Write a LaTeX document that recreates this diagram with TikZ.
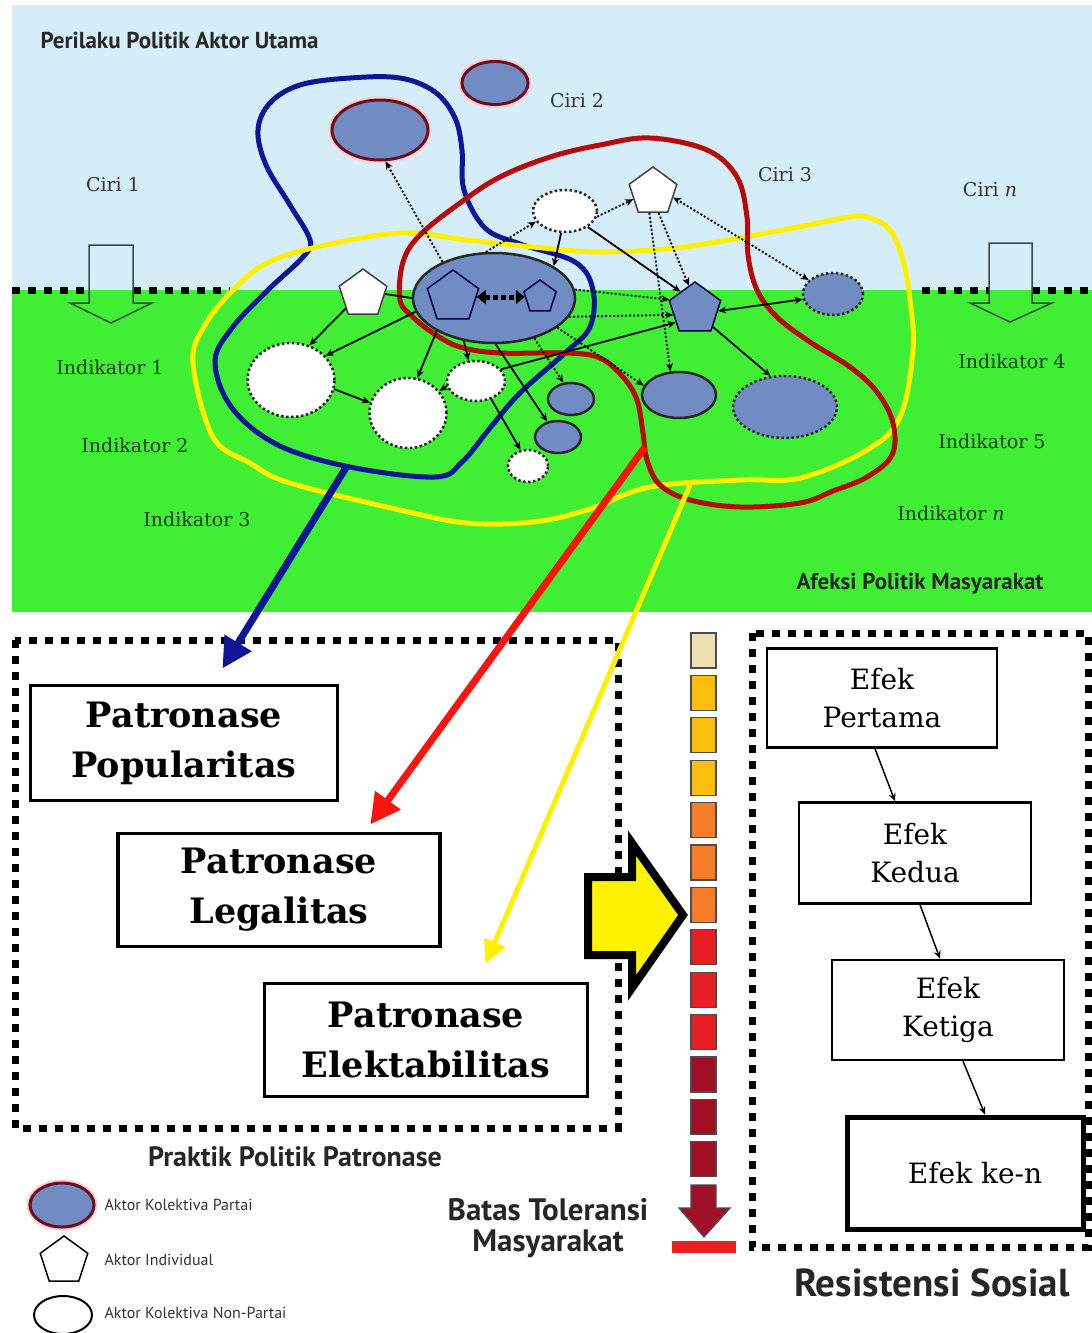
\documentclass[tikz,border=0pt]{standalone}
\usepackage{fontspec}
\setmainfont{DejaVu Serif}
\setsansfont{PT Sans}
\usetikzlibrary{shapes.geometric,arrows.meta}

\definecolor{langit}{RGB}{213,237,249}
\definecolor{hijau}{RGB}{64,238,52}
\definecolor{aktorbiru}{RGB}{112,140,195}
\definecolor{marun}{RGB}{105,15,35}
\definecolor{garisbiru}{RGB}{12,22,150}
\definecolor{garismerah}{RGB}{185,10,10}
\definecolor{merahterang}{RGB}{250,20,15}
\definecolor{kuning}{RGB}{255,240,0}
\definecolor{teksijo}{RGB}{20,60,25}
\definecolor{abuarah}{RGB}{60,70,80}
\definecolor{krem}{RGB}{236,224,178}
\definecolor{emas}{RGB}{252,190,10}
\definecolor{jingga}{RGB}{247,125,40}
\definecolor{merahbar}{RGB}{232,30,35}
\definecolor{marunbar}{RGB}{160,15,38}

\tikzset{
  ujung/.tip={Stealth[length=8pt,width=7pt]},
  panah/.style={-ujung, line width=1.8pt},
  panahtitik/.style={panah, dash pattern=on 2pt off 2pt},
  titik/.style={dash pattern=on 2.5pt off 2.5pt},
  partai/.style={ellipse, inner sep=0pt, fill=aktorbiru, draw=marun, line width=3pt,
    preaction={draw=red!20, line width=7pt}},
  kolektif/.style={ellipse, inner sep=0pt, fill=aktorbiru, draw=black!85, line width=2.5pt},
  kolektiftitik/.style={kolektif, titik},
  nonpartai/.style={ellipse, inner sep=0pt, fill=white, draw=black!85, line width=2.5pt, titik},
  individu/.style={regular polygon, regular polygon sides=5, inner sep=0pt, fill=white,
    draw=black!75, line width=1.5pt},
  individubiru/.style={individu, fill=aktorbiru, draw=black!70!blue},
  kontur/.style={line width=5pt, line join=round},
  panahbesar/.style={line width=7pt, -{Triangle[length=30pt,width=30pt]}},
  garistebal/.style={line width=7pt, dash pattern=on 8pt off 8pt},
  blokpanah/.style={draw=abuarah, line width=1.5pt, line join=miter},
  ciri/.style={font=\fontsize{19}{22}\selectfont, text=black!80},
  indikator/.style={font=\fontsize{19}{22}\selectfont, text=teksijo},
  judul/.style={font=\sffamily\bfseries\fontsize{23}{26}\selectfont, text=black!85},
  legenda/.style={font=\sffamily\fontsize{16}{18}\selectfont, text=black!80, anchor=west},
  patron/.style={draw, line width=3.5pt, align=center, inner sep=0pt,
    font=\bfseries\fontsize{35}{50}\selectfont},
  efek/.style={draw, line width=2.5pt, align=center, inner sep=0pt,
    font=\fontsize{28}{38}\selectfont},
}

\begin{document}
\begin{tikzpicture}[x=1pt,y=-1pt]
\useasboundingbox (0,0) rectangle (1092,1333);
\fill[white] (0,0) rectangle (1092,1333);
\fill[langit] (12,5) rectangle (1092,290);
\fill[hijau] (12,290) rectangle (1092,612);

\draw[garistebal] (12,290) -- (89,290) (133,290) -- (230,290);
\draw[garistebal] (922,290) -- (989,290) (1032,290) -- (1092,290);
\draw[blokpanah] (89,245) -- (133,245) -- (133,303) -- (152,303) -- (111,323) -- (70,303) -- (89,303) -- cycle;
\draw[blokpanah] (989,243) -- (1032,243) -- (1032,303) -- (1052,303) -- (1010,322) -- (970,303) -- (989,303) -- cycle;

\draw[kontur, garisbiru] plot[smooth cycle, tension=0.6] coordinates {(310,240) (290,205) (266,165) (258,130) (270,103) (300,85) (350,78) (400,78) (435,92) (455,118) (462,150) (464,190) (485,228) (520,244) (575,262) (593,290) (590,327) (565,353) (520,393) (490,428) (462,462) (435,477) (350,467) (278,445) (232,408) (215,362) (232,328) (268,290) (303,257)};
\draw[kontur, kuning] plot[smooth cycle, tension=0.6] coordinates {(193,363) (213,437) (250,463) (290,483) (400,510) (467,523) (533,522) (587,510) (650,487) (740,480) (800,478) (867,450) (900,417) (913,350) (910,300) (903,260) (890,230) (870,218) (850,217) (783,230) (683,247) (600,252) (533,247) (467,240) (400,233) (317,247) (267,263) (233,290) (205,325)};
\draw[kontur, garismerah] plot[smooth cycle, tension=0.6] coordinates {(400,300) (403,262) (420,235) (460,203) (500,177) (550,157) (600,145) (650,138) (707,150) (737,177) (747,217) (748,255) (757,290) (777,317) (810,342) (850,367) (877,392) (893,423) (892,455) (867,477) (833,491) (800,503) (740,507) (690,500) (660,485) (647,460) (643,433) (637,400) (623,377) (600,358) (567,353) (500,353) (460,347) (433,333) (413,317)};

\node[judul, anchor=west] (perilaku) at (37,40) {Perilaku Politik Aktor Utama};
\node[ciri] (ciri1) at (113,185) {Ciri 1};
\node[ciri] (ciri2) at (577,101) {Ciri 2};
\node[ciri] (ciri3) at (785,175) {Ciri 3};
\node[ciri] (cirin) at (990,190) {Ciri \textit{n}};
\node[indikator] (ind1) at (110,367) {Indikator 1};
\node[indikator] (ind2) at (135,445) {Indikator 2};
\node[indikator] (ind3) at (197,519) {Indikator 3};
\node[indikator] (ind4) at (1012,361) {Indikator 4};
\node[indikator] (ind5) at (992,441) {Indikator 5};
\node[indikator] (indn) at (951,513) {Indikator \textit{n}};
\node[judul] (afeksi) at (920,584) {Afeksi Politik Masyarakat};

\node[partai, minimum width=96pt, minimum height=60pt] (kolAtas) at (380,130) {};
\node[partai, minimum width=66pt, minimum height=43pt] (kolCiri) at (495,83) {};
\node[kolektif, minimum width=162pt, minimum height=90pt] (kolPusat) at (494,298) {};
\node[individubiru, minimum size=54pt] (pentaBesar) at (453,297) {};
\node[individubiru, minimum size=34pt] (pentaKecil) at (540,297) {};
\node[individu, minimum size=50pt] (indKiri) at (363,294) {};
\node[individu, minimum size=50pt] (indAtas) at (653,192) {};
\node[individubiru, minimum size=54pt] (indBiru) at (695,309) {};
\node[nonpartai, minimum width=64pt, minimum height=42pt] (nonAtas) at (565,211) {};
\node[kolektiftitik, minimum width=60pt, minimum height=42pt] (kolTitik1) at (833,294) {};
\node[kolektiftitik, minimum width=104pt, minimum height=62pt] (kolTitik2) at (785,407) {};
\node[kolektif, minimum width=74pt, minimum height=46pt] (kolBiru) at (679,395) {};
\node[kolektif, minimum width=46pt, minimum height=32pt] (kolKecil1) at (571,399) {};
\node[kolektif, minimum width=46pt, minimum height=32pt] (kolKecil2) at (558,437) {};
\node[nonpartai, minimum width=40pt, minimum height=32pt] (nonKecil) at (528,466) {};
\node[nonpartai, minimum width=58pt, minimum height=40pt] (nonSedang) at (476,381) {};
\node[nonpartai, minimum width=87pt, minimum height=74pt] (nonBesar1) at (291,380) {};
\node[nonpartai, minimum width=77pt, minimum height=70pt] (nonBesar2) at (408,413) {};

\draw[line width=5pt, dash pattern=on 5pt off 3pt, {Triangle[length=9pt,width=14pt]}-{Triangle[length=9pt,width=14pt]}] (pentaBesar.east) -- (pentaKecil.west);

\draw[panahtitik] (kolPusat.145) -- (kolAtas.280);
\draw[panahtitik] (kolPusat.100) -- (nonAtas.200);
\draw[panahtitik] (nonAtas.-10) -- (indAtas.200);
\draw[panah] (nonAtas.-35) -- (indBiru.130);
\draw[panah] (nonAtas.-100) -- (kolPusat.28);
\draw[panahtitik] (indAtas.-100) -- (kolBiru.110);
\draw[panahtitik] (indAtas.-75) -- (indBiru.105);
\draw[panahtitik, ujung-ujung] (kolTitik1.150) -- (indAtas.-15);
\draw[panah, ujung-ujung] (indBiru.-5) -- (kolTitik1.190);
\draw[panah] (indBiru.-45) -- (kolTitik2.115);
\draw[panahtitik] (kolPusat.6) -- (indBiru.160);
\draw[panahtitik] (kolPusat.-14) -- (indBiru.195);
\draw[panah] (nonSedang.25) -- (indBiru.215);
\draw[panahtitik] (kolPusat.-25) -- (kolBiru.165);
\draw[panahtitik] (kolPusat.-45) -- (kolKecil1.115);
\draw[panah] (kolPusat.-88) -- (kolKecil2.125);
\draw[panah] (nonSedang.-50) -- (nonKecil.115);
\draw[panah] (kolPusat.-125) -- (nonSedang.110);
\draw[panah] (kolPusat.-150) -- (nonBesar2.75);
\draw[panah] (kolPusat.190) -- (nonBesar1.35);
\draw[panah] (indKiri.-140) -- (nonBesar1.62);
\draw[line width=1.8pt] (indKiri.east) -- (kolPusat.west);
\draw[panah] (nonBesar1.-12) -- (nonBesar2.165);
\draw[panah] (nonSedang.190) -- (nonBesar2.35);

\draw[garistebal] (15,640) rectangle (618,1128);
\draw[garistebal] (752,633) rectangle (1088,1247);

\node[patron, minimum width=307pt, minimum height=115pt] (populer) at (184,743) {Patronase\\Popularitas};
\node[patron, minimum width=322pt, minimum height=113pt] (legal) at (279,890) {Patronase\\Legalitas};
\node[patron, minimum width=323pt, minimum height=113pt] (elektab) at (426,1040) {Patronase\\Elektabilitas};
\node[judul, font=\sffamily\bfseries\fontsize{28}{30}\selectfont] (praktik) at (295,1157) {Praktik Politik Patronase};

\coordinate (biruMula) at (347,466);
\coordinate (merahMula) at (645,447);
\coordinate (kuningMula) at (690,485);
\draw[panahbesar, garisbiru, shorten >=18pt] (biruMula) -- ([xshift=29pt]populer.north);
\draw[panahbesar, merahterang, shorten >=9pt] (merahMula) -- ([xshift=86pt]legal.north);
\draw[panahbesar, kuning, line width=5pt, -{Triangle[length=24pt,width=22pt]}, shorten >=19pt] (kuningMula) -- ([xshift=52pt]elektab.north);

\draw[fill=yellow, line width=8pt, line join=miter] (588,877) -- (632,877) -- (632,843) -- (683,915) -- (632,988) -- (632,955) -- (588,955) -- cycle;

\foreach \i/\w in {0/krem,1/emas,2/emas,3/emas,4/jingga,5/jingga,6/jingga,7/merahbar,8/merahbar,9/merahbar,10/marunbar,11/marunbar,12/marunbar}
  \draw[fill=\w, draw=black!70, line width=1.2pt] (691,{633+42.4*\i}) rectangle (716,{668+42.4*\i});
\draw[fill=marunbar, draw=black!70, line width=1.2pt] (691,1185) -- (716,1185) -- (716,1208) -- (730,1208) -- (704,1237) -- (679,1208) -- (691,1208) -- cycle;
\fill[merahbar] (672,1241) rectangle (736,1253);
\node[font=\sffamily\bfseries\fontsize{31}{31}\selectfont, text=black!85, align=center] (batas) at (548,1228) {Batas Toleransi\\Masyarakat};

\node[efek, minimum width=230pt, minimum height=99pt] (efek1) at (882,698) {Efek\\Pertama};
\node[efek, minimum width=232pt, minimum height=101pt] (efek2) at (915,853) {Efek\\Kedua};
\node[efek, minimum width=232pt, minimum height=100pt] (efek3) at (948,1010) {Efek\\Ketiga};
\node[efek, line width=5pt, minimum width=236pt, minimum height=112pt] (efekn) at (965,1173) {\hspace*{20pt}Efek ke-n};
\draw[-ujung, line width=1.5pt] ([xshift=-7pt]efek1.south) -- ([xshift=-20pt]efek2.north);
\draw[-ujung, line width=1.5pt] ([xshift=5pt]efek2.south) -- ([xshift=-8pt]efek3.north);
\draw[-ujung, line width=1.5pt] ([xshift=15pt]efek3.south) -- ([xshift=20pt]efekn.north);
\node[font=\sffamily\bfseries\fontsize{39}{42}\selectfont, text=black!85] (resistensi) at (932,1283) {Resistensi Sosial};

\node[partai, minimum width=64pt, minimum height=44pt] (legPartai) at (62,1205) {};
\node[individu, draw=black, minimum size=50pt] (legIndividu) at (64,1261) {};
\node[ellipse, draw=black, line width=2pt, fill=white, minimum width=58pt, minimum height=38pt] (legNon) at (63,1315) {};
\node[legenda] (teksPartai) at (101,1205) {Aktor Kolektiva Partai};
\node[legenda] (teksIndividu) at (101,1260) {Aktor Individual};
\node[legenda] (teksNon) at (101,1313) {Aktor Kolektiva Non-Partai};
\end{tikzpicture}
\end{document}
